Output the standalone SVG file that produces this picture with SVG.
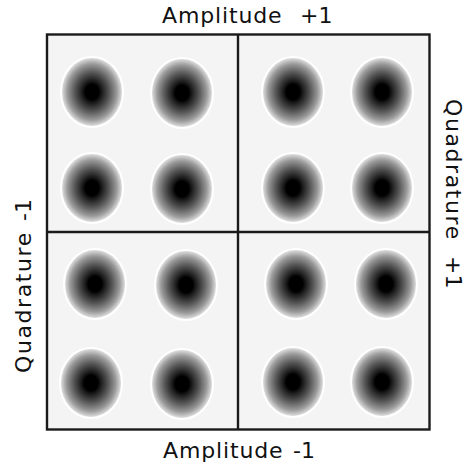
<svg xmlns="http://www.w3.org/2000/svg" width="474" height="468" viewBox="0 0 474 468">
<style>
.lbl{font-family:"DejaVu Sans","Verdana",sans-serif;font-size:22px;fill:#111}
.dot{fill:url(#g);stroke:#fff;stroke-width:2}
.frame{fill:#f4f4f4;stroke:#1a1a1a;stroke-width:2.4}
.div{stroke:#1a1a1a;stroke-width:2.4;fill:none}
</style>
<defs>
<radialGradient id="g" cx="0.5" cy="0.5" r="0.5">
<stop offset="0" stop-color="#000"/>
<stop offset="0.22" stop-color="#000"/>
<stop offset="0.32" stop-color="#1c1c1c"/>
<stop offset="0.55" stop-color="#555"/>
<stop offset="0.8" stop-color="#9a9a9a"/>
<stop offset="0.95" stop-color="#d6d6d6"/>
<stop offset="1" stop-color="#e6e6e6"/>
</radialGradient>
</defs>
<rect class="frame" x="47" y="34.5" width="382.5" height="395"/>
<g id="dividers">
<line class="div" x1="238" y1="34.5" x2="238" y2="429.5"/>
<line class="div" x1="47" y1="232" x2="429.5" y2="232"/>
</g>
<g id="quadrant-tl">
<ellipse class="dot" cx="92" cy="92" rx="31" ry="35"/>
<ellipse class="dot" cx="182" cy="93" rx="31" ry="35"/>
<ellipse class="dot" cx="92" cy="188" rx="31" ry="35"/>
<ellipse class="dot" cx="182" cy="189" rx="31" ry="35"/>
</g>
<g id="quadrant-tr">
<ellipse class="dot" cx="293" cy="92" rx="31" ry="35"/>
<ellipse class="dot" cx="382" cy="92" rx="31" ry="35"/>
<ellipse class="dot" cx="293" cy="188" rx="31" ry="35"/>
<ellipse class="dot" cx="382" cy="188" rx="31" ry="35"/>
</g>
<g id="quadrant-bl">
<ellipse class="dot" cx="95" cy="284" rx="31" ry="35"/>
<ellipse class="dot" cx="186" cy="285" rx="31" ry="35"/>
<ellipse class="dot" cx="91" cy="383" rx="31" ry="35"/>
<ellipse class="dot" cx="182" cy="384" rx="31" ry="35"/>
</g>
<g id="quadrant-br">
<ellipse class="dot" cx="296" cy="284" rx="31" ry="35"/>
<ellipse class="dot" cx="386" cy="284" rx="31" ry="35"/>
<ellipse class="dot" cx="293" cy="382" rx="31" ry="35"/>
<ellipse class="dot" cx="382" cy="382" rx="31" ry="35"/>
</g>
<g id="labels">
<text class="lbl" x="162" y="23"><tspan letter-spacing="0.85">Amplitude</tspan><tspan x="300">+1</tspan></text>
<text class="lbl" x="163" y="458"><tspan letter-spacing="0.85">Amplitude</tspan><tspan x="293">-1</tspan></text>
<text class="lbl" transform="translate(31,373) rotate(-90)" x="0" y="0"><tspan letter-spacing="1.6">Quadrature</tspan><tspan x="152">-1</tspan></text>
<text class="lbl" transform="translate(446,99) rotate(90)" x="0" y="0"><tspan letter-spacing="1.6">Quadrature</tspan><tspan x="157">+1</tspan></text>
</g>
</svg>
